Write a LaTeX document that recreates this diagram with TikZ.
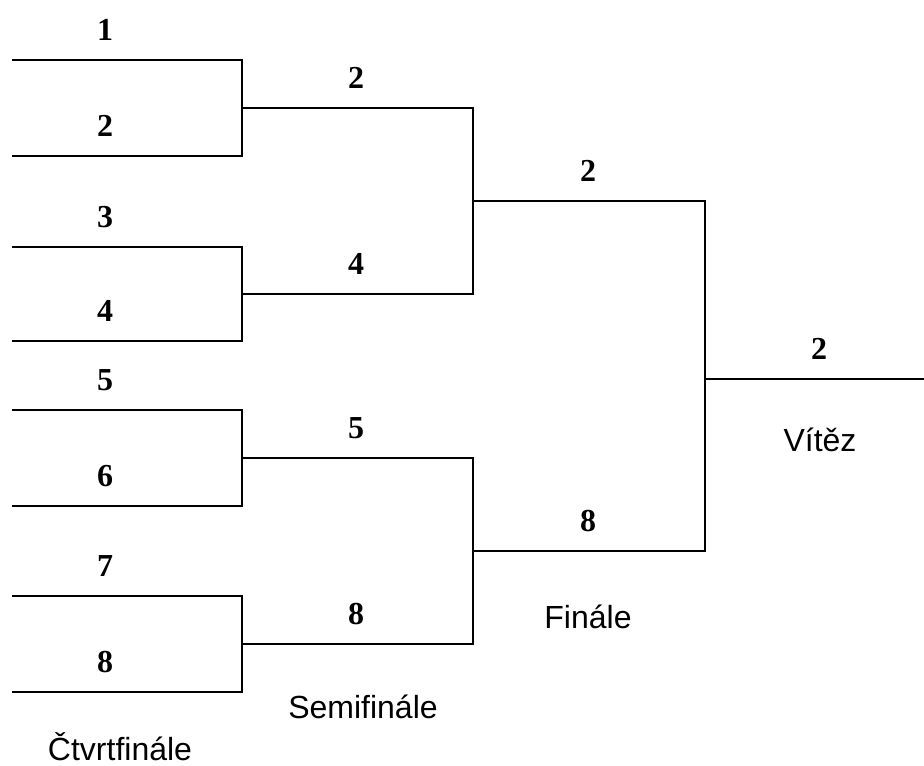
\documentclass[tikz,border=0pt]{standalone}
\usepackage{fontspec}
\setmainfont{Liberation Sans}
\newfontfamily\scorefont{Liberation Serif}
\usetikzlibrary{positioning}
\tikzset{line/.style = {line width = 1.5pt, line join = miter}}
\tikzset{score/.style = {font = \scorefont\bfseries\fontsize{24}{24}\selectfont, inner sep = 0}}
\tikzset{stage/.style = {font = \fontsize{24}{24}\selectfont, inner sep = 0, anchor = base}}

\begin{document}
\begin{tikzpicture}[x=0.75pt, y=-0.75pt]
      \useasboundingbox (0, 0) rectangle (924, 765);
      \foreach \n/\y in {1/60, 2/156, 3/247, 4/341, 5/410, 6/506, 7/596, 8/692} {
        \coordinate (q\n) at (12, \y);
        \node [score] (lq\n) at (105, {\y - 30}) {\n};
      }
      \foreach \n/\y/\l in {1/108/2, 2/294/4, 3/458/5, 4/644/8} {
        \coordinate (s\n) at (242, \y);
        \node [score] (ls\n) at (356, {\y - 30}) {\l};
      }
      \coordinate (f1) at (473, 201);
      \coordinate (f2) at (473, 551);
      \coordinate (w) at (705, 379);
      \coordinate (wend) at (924, 379);
      \node [score] (lf1) at (588, 171) {2};
      \node [score] (lf2) at (588, 521) {8};
      \node [score] (lw) at (819, 349) {2};

      \draw [line] (q1) -- (q1 -| s1) -- (q2 -| s1) -- (q2);
      \draw [line] (q3) -- (q3 -| s2) -- (q4 -| s2) -- (q4);
      \draw [line] (q5) -- (q5 -| s3) -- (q6 -| s3) -- (q6);
      \draw [line] (q7) -- (q7 -| s4) -- (q8 -| s4) -- (q8);

      \draw [line] (s1) -- (s1 -| f1) -- (s2 -| f1) -- (s2);
      \draw [line] (s3) -- (s3 -| f2) -- (s4 -| f2) -- (s4);

      \draw [line] (f1) -- (f1 -| w) -- (f2 -| w) -- (f2);
      \draw [line] (w) -- (wend);

      \node [stage] (quarter) at (120, 760) {Čtvrtfinále};
      \node [stage] (semi) at (363, 718) {Semifinále};
      \node [stage] (final) at (588, 628) {Finále};
      \node [stage] (winner) at (820, 451) {Vítěz};
    \end{tikzpicture}
\end{document}
